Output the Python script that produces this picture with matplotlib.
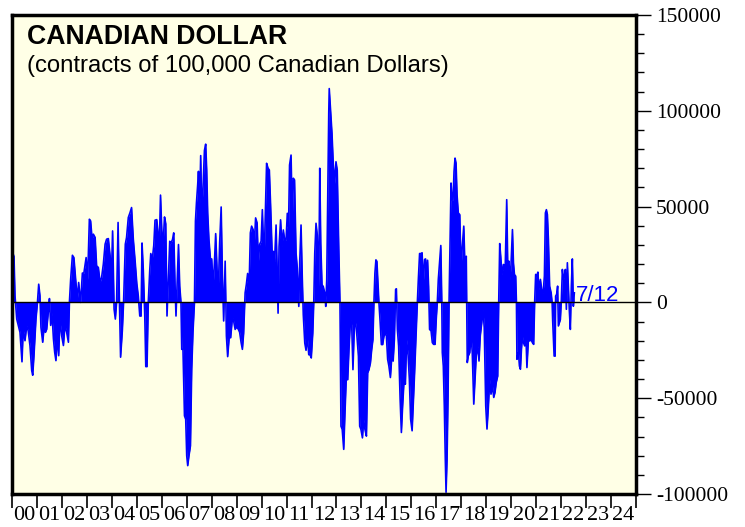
import matplotlib
matplotlib.use("Agg")
import matplotlib.pyplot as plt
from matplotlib.ticker import MultipleLocator, FixedLocator, NullFormatter, FixedFormatter
import numpy as np

plt.rcParams["axes.unicode_minus"] = False

# ---- data (decimal year, net contracts) ----
dates = [
    2000.00, 2000.08, 2000.12, 2000.19, 2000.25, 2000.32, 2000.40, 2000.45, 2000.52, 2000.59,
    2000.65, 2000.72, 2000.79, 2000.83, 2000.88, 2000.96, 2001.02, 2001.07, 2001.12, 2001.16,
    2001.23, 2001.28, 2001.34, 2001.39, 2001.46, 2001.50, 2001.55, 2001.60, 2001.66, 2001.71,
    2001.76, 2001.82, 2001.87, 2001.92, 2001.99, 2002.06, 2002.12, 2002.19, 2002.26, 2002.30,
    2002.35, 2002.42, 2002.48, 2002.55, 2002.62, 2002.67, 2002.75, 2002.82, 2002.88, 2002.97,
    2003.03, 2003.10, 2003.15, 2003.21, 2003.26, 2003.33, 2003.39, 2003.46, 2003.53, 2003.59,
    2003.66, 2003.73, 2003.79, 2003.86, 2003.93, 2003.98, 2004.03, 2004.09, 2004.14, 2004.19,
    2004.25, 2004.30, 2004.35, 2004.42, 2004.47, 2004.54, 2004.59, 2004.66, 2004.73, 2004.79,
    2004.86, 2004.93, 2005.00, 2005.06, 2005.12, 2005.17, 2005.21, 2005.26, 2005.32, 2005.36,
    2005.41, 2005.46, 2005.52, 2005.56, 2005.62, 2005.68, 2005.73, 2005.80, 2005.85, 2005.90,
    2005.95, 2006.00, 2006.05, 2006.11, 2006.16, 2006.21, 2006.27, 2006.32, 2006.37, 2006.43,
    2006.48, 2006.53, 2006.57, 2006.61, 2006.67, 2006.72, 2006.77, 2006.80, 2006.85, 2006.91,
    2006.96, 2007.00, 2007.04, 2007.09, 2007.15, 2007.20, 2007.25, 2007.31, 2007.35, 2007.39,
    2007.44, 2007.47, 2007.52, 2007.56, 2007.60, 2007.65, 2007.71, 2007.76, 2007.80, 2007.84,
    2007.89, 2007.95, 2008.00, 2008.06, 2008.11, 2008.16, 2008.22, 2008.27, 2008.32, 2008.38,
    2008.43, 2008.48, 2008.54, 2008.59, 2008.64, 2008.70, 2008.76, 2008.83, 2008.88, 2008.94,
    2009.00, 2009.07, 2009.12, 2009.18, 2009.23, 2009.28, 2009.34, 2009.39, 2009.44, 2009.50,
    2009.55, 2009.60, 2009.66, 2009.71, 2009.76, 2009.82, 2009.87, 2009.92, 2009.98, 2010.03,
    2010.10, 2010.15, 2010.20, 2010.26, 2010.31, 2010.36, 2010.42, 2010.47, 2010.52, 2010.58,
    2010.62, 2010.66, 2010.70, 2010.76, 2010.82, 2010.87, 2010.92, 2010.98, 2011.03, 2011.08,
    2011.12, 2011.18, 2011.23, 2011.27, 2011.32, 2011.38, 2011.43, 2011.49, 2011.53, 2011.58,
    2011.63, 2011.67, 2011.73, 2011.78, 2011.83, 2011.89, 2011.94, 2011.99, 2012.05, 2012.09,
    2012.13, 2012.18, 2012.23, 2012.29, 2012.33, 2012.37, 2012.42, 2012.47, 2012.53, 2012.57,
    2012.61, 2012.65, 2012.69, 2012.71, 2012.77, 2012.82, 2012.87, 2012.93, 2012.98, 2013.03,
    2013.09, 2013.14, 2013.18, 2013.23, 2013.29, 2013.34, 2013.39, 2013.45, 2013.50, 2013.56,
    2013.61, 2013.66, 2013.72, 2013.77, 2013.82, 2013.88, 2013.93, 2013.98, 2014.04, 2014.09,
    2014.14, 2014.20, 2014.25, 2014.30, 2014.36, 2014.41, 2014.46, 2014.50, 2014.54, 2014.58,
    2014.62, 2014.66, 2014.70, 2014.74, 2014.80, 2014.85, 2014.90, 2014.96, 2015.00, 2015.05,
    2015.10, 2015.16, 2015.21, 2015.27, 2015.32, 2015.37, 2015.40, 2015.44, 2015.49, 2015.55,
    2015.60, 2015.65, 2015.71, 2015.76, 2015.81, 2015.87, 2015.92, 2015.97, 2016.03, 2016.08,
    2016.13, 2016.19, 2016.24, 2016.28, 2016.33, 2016.39, 2016.43, 2016.48, 2016.53, 2016.57,
    2016.61, 2016.65, 2016.69, 2016.73, 2016.79, 2016.84, 2016.89, 2016.95, 2017.00, 2017.04,
    2017.08, 2017.14, 2017.18, 2017.22, 2017.24, 2017.28, 2017.32, 2017.36, 2017.39, 2017.43,
    2017.47, 2017.51, 2017.55, 2017.59, 2017.63, 2017.67, 2017.71, 2017.75, 2017.79, 2017.83,
    2017.88, 2017.94, 2017.99, 2018.04, 2018.10, 2018.15, 2018.20, 2018.24, 2018.28, 2018.34,
    2018.39, 2018.44, 2018.50, 2018.55, 2018.60, 2018.66, 2018.71, 2018.76, 2018.82, 2018.87,
    2018.92, 2018.98, 2019.03, 2019.08, 2019.14, 2019.19, 2019.25, 2019.30, 2019.35, 2019.40,
    2019.46, 2019.50, 2019.54, 2019.58, 2019.63, 2019.69, 2019.72, 2019.75, 2019.82, 2019.86,
    2019.91, 2019.95, 2019.99, 2020.05, 2020.09, 2020.13, 2020.18, 2020.21, 2020.23, 2020.29,
    2020.33, 2020.37, 2020.41, 2020.45, 2020.49, 2020.54, 2020.59, 2020.63, 2020.69, 2020.74,
    2020.79, 2020.85, 2020.90, 2020.94, 2020.98, 2021.02, 2021.07, 2021.11, 2021.17, 2021.22,
    2021.28, 2021.33, 2021.37, 2021.41, 2021.45, 2021.49, 2021.54, 2021.60, 2021.64, 2021.66,
    2021.72, 2021.76, 2021.78, 2021.82, 2021.86, 2021.89, 2021.93, 2021.97, 2022.01, 2022.05,
    2022.09, 2022.13, 2022.17, 2022.21, 2022.25, 2022.29, 2022.33, 2022.37, 2022.41, 2022.45,
    2022.49, 2022.53,
]
net_positions = [
    26900, 24000, 3500, -8700, -12000, -15600, -31000, -14000, -20000, -12000,
    -15000, -22500, -35600, -38000, -27800, -8700, 0, 9500, 3500, -13000,
    -20800, -14000, -15600, -14000, -4300, 2000, -12000, -5200, -19000, -26000,
    -30400, -17400, -27800, -8700, -17400, -22500, -12000, -15600, -20800, 0,
    12000, 24600, 23400, 12000, 1700, 10400, 0, 15300, 15300, 23400,
    12000, 43400, 42500, 33000, 35600, 33900, 19100, 18200, 10400, 13000,
    20000, 30400, 33000, 33300, 24300, 12000, 37300, -3500, -8700, 0,
    41700, 3500, -28600, -14800, 0, 30400, 33900, 44300, 46900, 49500,
    33000, 22000, 9900, 3300, -7100, -7100, 31000, 17000, -7100, -33500,
    -33500, 0, 17000, 25500, 22400, 29700, 42900, 43200, 36300, 29300,
    56000, 38000, 29300, 44600, 41100, -7100, 13900, 31900, 31000, 32800,
    36300, 9900, -7100, 8500, 30200, 8500, 0, -24500, -24500, -59200,
    -61000, -80000, -85200, -80000, -74800, -34900, -15600, 0, 42400, 51900,
    61500, 68400, 51900, 76600, 47600, 58900, 79300, 82600, 69300, 46700,
    32800, 22700, 22700, 8500, 20700, 35900, 15500, 8500, 31000, 49800,
    13900, -9700, 21500, -17500, -28300, -18400, -18400, -8000, -9700, -14100,
    -12700, -14100, -15600, -21000, -24500, -16100, 5000, 9400, 15100, 8500,
    36300, 39800, 38000, 31000, 44100, 41500, 20700, 30200, 31900, 48400,
    20500, 46500, 72600, 70000, 69100, 50900, 26600, 26600, 21400, 40400,
    18700, -5600, 29200, 43100, 29200, 37800, 33000, 32600, 46500, 39600,
    71700, 76900, 43100, 64800, 63900, 25700, 17900, -2100, 22200, 40400,
    12700, -6400, -21200, -25000, -17700, -27300, -27300, -29000, -16000, 0,
    25700, 41300, 35200, 8300, 70000, 30900, 9200, 8300, 4900, -2100,
    11800, 55200, 98600, 111600, 98600, 88200, 72600, 62100, 73400, 69100,
    29200, 0, -64600, -66300, -76700, -57600, -40300, -40300, -24700, -9000,
    -11600, -35100, -10800, -10800, -17700, -28100, -64600, -66300, -70700, -61100,
    -66300, -69800, -36800, -35100, -31600, -24700, -19400, 0, 15300, 22200,
    21400, 10100, 0, -8200, -22000, -22000, -17700, -16000, -17500, -29700,
    -33200, -39200, -29700, -30600, -19300, 6800, 7100, -14100, -22700, -50500,
    -67900, -54000, -40100, -42700, -19300, -27900, -40100, -60900, -67000, -52300,
    -36600, -15800, 0, 12000, 25500, 25500, 25900, 10200, 22400, 22700,
    12000, 22000, 8500, -14100, -14900, -21000, -21900, -21900, -8000, 0,
    12000, 22400, 29700, 0, -26200, -33200, -54000, -81800, -99100, -81800,
    -48800, 0, 32800, 62300, 53600, 53600, 68400, 75300, 72700, 56200,
    46700, 45800, 17200, 29300, 39800, 17200, 24100, -31400, -27900, -26200,
    -16700, -26200, -53100, -40100, -27900, -22700, -30600, -17500, -10600, -3600,
    -13200, -54000, -66100, -55700, -40100, -47900, -43600, -49600, -47000, -41800,
    -38400, 0, 30700, 24100, 14600, 19800, 18900, 12000, 53600, 20700,
    21500, 12000, 18900, 38000, 20700, 14600, 13700, 0, -29700, -26200,
    -33200, -34900, -24500, -17500, -21000, -22700, -17500, -34000, -19300, -20100,
    -19300, -21000, -21900, 0, 14600, 13700, 15800, 6800, 12000, 6800,
    5000, 13700, 46700, 48400, 45800, 32800, 8500, 5000, 0, -8900,
    -28000, -28000, 3300, 4200, 8500, -12300, -10600, -8900, 1600, 17200,
    12000, 13700, 17200, -3600, 20700, 8500, -4500, -14100, 8500, 22700,
    -2000, 5000,
]
year_labels = ["%02d" % y for y in range(0, 25)]
y_ticks = [-100000, -50000, 0, 50000, 100000, 150000]
last_label = "7/12"

title = "CANADIAN DOLLAR"
subtitle = "(contracts of 100,000 Canadian Dollars)"

# ---- figure ----
fig = plt.figure(figsize=(7.45, 5.27), dpi=100)
fig.patch.set_facecolor("white")
ax = fig.add_axes([12/745, 1-494/527, 624/745, 479/527])
ax.set_facecolor("#FFFFE6")

x = np.array(dates)
y = np.array(net_positions)
ax.fill_between(x, y, 0, color="#0000FF", linewidth=0, zorder=2)
ax.plot(x, y, color="#0000FF", linewidth=1.2, zorder=2)
ax.axhline(0, color="black", linewidth=1.0, zorder=3)

ax.set_xlim(2000, 2025)
ax.set_ylim(-100000, 150000)

# y axis on the right
ax.yaxis.tick_right()
ax.yaxis.set_major_locator(FixedLocator(y_ticks))
ax.yaxis.set_minor_locator(MultipleLocator(10000))
ax.tick_params(axis="y", which="major", length=11, width=1.0, pad=3.5,
               labelsize=15.5, direction="out", right=True, left=False)
ax.tick_params(axis="y", which="minor", length=6, width=1.0, direction="out",
               right=True, left=False)
for lab in ax.get_yticklabels():
    lab.set_fontfamily("Liberation Serif")

# x axis: ticks at year boundaries, labels centred in each year
ax.xaxis.set_major_locator(FixedLocator(np.arange(2000, 2026)))
ax.xaxis.set_major_formatter(NullFormatter())
ax.xaxis.set_minor_locator(FixedLocator(np.arange(2000, 2025) + 0.5))
ax.xaxis.set_minor_formatter(FixedFormatter(year_labels))
ax.tick_params(axis="x", which="major", length=10, width=1.2, direction="out")
ax.tick_params(axis="x", which="minor", length=0, pad=8.5, labelsize=16)
for lab in ax.xaxis.get_minorticklabels():
    lab.set_fontfamily("Liberation Serif")

for s in ax.spines.values():
    s.set_linewidth(2.5)
    s.set_color("black")

ax.text(0.024, 0.9395, title, transform=ax.transAxes, fontsize=19.2,
        fontweight="bold", family="Liberation Sans", va="baseline", ha="left")
ax.text(0.024, 0.881, subtitle, transform=ax.transAxes, fontsize=17.2,
        family="Liberation Sans", va="baseline", ha="left")
ax.text(2022.60, 600, last_label, color="#0000FF", fontsize=16,
        family="Liberation Sans", va="baseline", ha="left", zorder=4)

fig.savefig("out.png", dpi=100)
